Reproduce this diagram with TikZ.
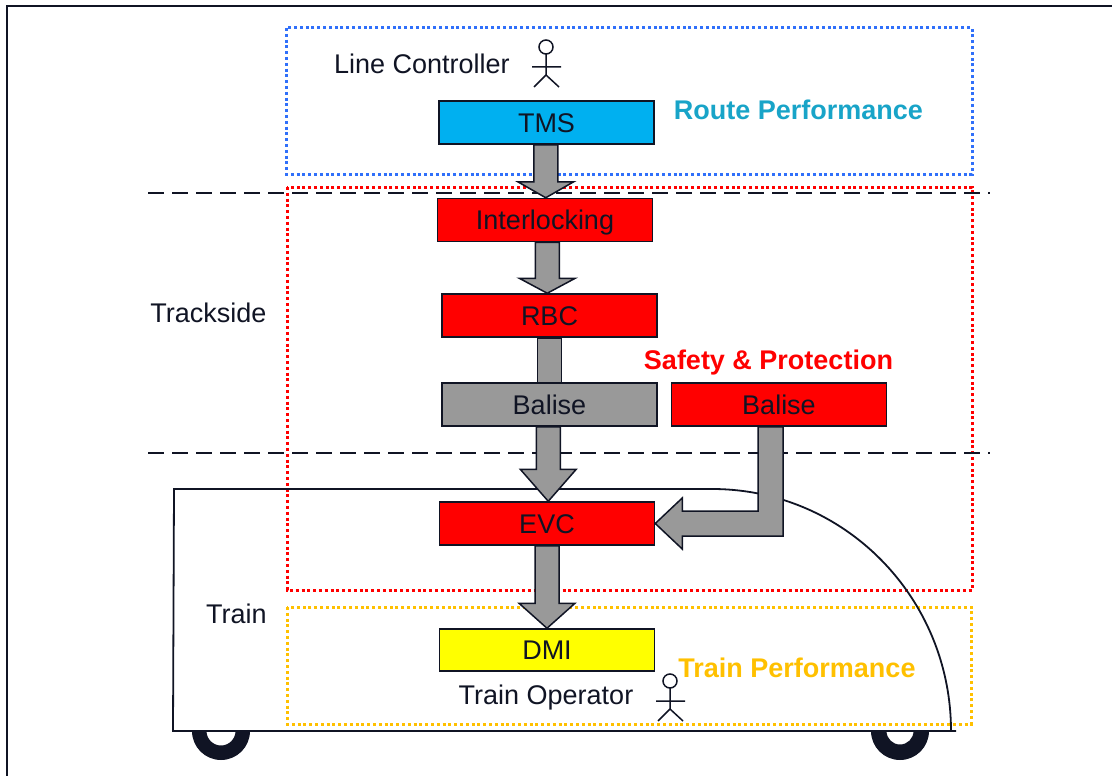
\documentclass[tikz,border=0pt]{standalone}
\usepackage{fontspec}
\setmainfont{Liberation Sans}
\usetikzlibrary{calc}

\definecolor{ink}{RGB}{16,20,36}
\definecolor{tmsblue}{RGB}{0,176,240}
\definecolor{boxred}{RGB}{255,0,0}
\definecolor{boxgray}{RGB}{153,153,153}
\definecolor{boxyellow}{RGB}{255,255,0}
\definecolor{routeblue}{RGB}{48,112,250}
\definecolor{routetext}{RGB}{24,164,200}
\definecolor{trainorange}{RGB}{255,192,0}

\pgfdeclarelayer{back}
\pgfdeclarelayer{mid}
\pgfsetlayers{back,mid,main}

% fat arrow pointing down from one block to the next
\newcommand\fatdown[3]{%
  \filldraw[fatarrow] let \p1=(#1.south), \p2=(#2.north),
      \p3=($(\p1)!0.5!(\p2)$) in
    (\x3-12,\y1) -- (\x3-12,\y2+#3) -- (\x3-28,\y2+#3) -- (\x3,\y2)
    -- (\x3+28,\y2+#3) -- (\x3+12,\y2+#3) -- (\x3+12,\y1) -- cycle;}
% plain bar joining two blocks
\newcommand\fatbar[2]{%
  \filldraw[fatarrow] let \p1=(#1.south), \p2=(#2.north),
      \p3=($(\p1)!0.5!(\p2)$) in
    (\x3-12,\y1) rectangle (\x3+12,\y2);}

\tikzset{
  blk/.style={draw=ink, line width=1.5pt, minimum width=215pt,
    minimum height=43pt, inner sep=0pt, text height=19.4pt,
    text depth=0pt, text=ink},
  lbl/.style={text=ink, inner sep=0pt, anchor=base},
  hot/.style={font=\fontsize{27}{32}\selectfont\bfseries, inner sep=0pt, anchor=base},
  zone/.style={line width=3pt, dash pattern=on 3pt off 2.8pt},
  sep/.style={draw=ink, line width=2pt, dash pattern=on 16pt off 8pt},
  body/.style={draw=ink, line width=1.8pt},
  fatarrow/.style={fill=boxgray, draw=ink, line width=1.5pt, line join=miter},
  actor/.pic={\draw[line width=1.5pt, ink]
    (0,0) circle (7) (0,7.5) -- (0,28) (-14,20) -- (15,20)
    (-12,40) -- (0,28) -- (13,40);}
}

\begin{document}
\begin{tikzpicture}[x=1pt, y=-1pt, font=\fontsize{27}{32}\selectfont]
\useasboundingbox (0,0) rectangle (1112,776);

\begin{pgfonlayer}{back}
  % page frame
  \draw[ink, line width=2.5pt] (7,776) -- (7,6) -- (1112,6);
  % responsibility zones
  \draw[zone, routeblue] (286,28) rectangle (972,174);
  \draw[zone, boxred] (287,187) rectangle (972,590);
  \draw[zone, trainorange] (287,607) rectangle (971,724);
  % trackside / train separators
  \draw[sep] (148,193) -- (990,193);
  \draw[sep] (148,453) -- (990,453);
  % train body
  \draw[body] (712,489) -- (174,489) -- (173,731) -- (956,731);
  \draw[body] (712,489) .. controls (844.5,489) and (951,597.5) .. (951,731);
  % wheels
  \begin{scope}
    \clip (150,731) rectangle (980,776);
    \fill[ink, even odd rule] (221,731) circle (29) (221,731) circle (14.5);
    \fill[ink, even odd rule] (900,731) circle (29) (900,731) circle (13.5);
  \end{scope}
\end{pgfonlayer}

% system blocks
\node[blk, fill=tmsblue] (tms) at (546.5,122.5) {TMS};
\node[blk, fill=boxred] (ixl) at (545,220) {Interlocking};
\node[blk, fill=boxred] (rbc) at (549.5,315.5) {RBC};
\node[blk, fill=boxgray] (bal1) at (549.5,404.5) {Balise};
\node[blk, fill=boxred] (bal2) at (779,404.5) {Balise};
\node[blk, fill=boxred] (evc) at (547,523.5) {EVC};
\node[blk, fill=boxyellow, minimum height=42pt] (dmi) at (547,650) {DMI};

% flows
\begin{pgfonlayer}{mid}
  \fatdown{tms}{ixl}{16}
  \fatdown{ixl}{rbc}{15}
  \fatbar{rbc}{bal1}
  \fatdown{bal1}{evc}{32}
  \fatdown{evc}{dmi}{25}
  \filldraw[fatarrow] let \p1=(bal2.south), \p2=(evc.east) in
    (\x1-21,\y1) -- (\x1-21,\y2+12.5) -- (\x2+27,\y2+12.5)
    -- (\x2+27,\y2+25.5) -- (\x2,\y2) -- (\x2+27,\y2-25.5)
    -- (\x2+27,\y2-12.5) -- (\x1+4,\y2-12.5) -- (\x1+4,\y1) -- cycle;
\end{pgfonlayer}

% labels
\node[lbl] (lc) at (422,74) {Line Controller};
\node[lbl] (ts) at (208.5,322) {Trackside};
\node[lbl] (tr) at (236.5,623) {Train};
\node[lbl] (to) at (546,704) {Train Operator};
\node[hot, text=routetext] (rp) at (798.5,120) {Route Performance};
\node[hot, text=boxred] (sp) at (768.5,369) {Safety \& Protection};
\node[hot, text=trainorange] (tp) at (797,677) {Train Performance};

% people
\pic at (546,47) {actor};
\pic at (670,681) {actor};
\end{tikzpicture}
\end{document}
